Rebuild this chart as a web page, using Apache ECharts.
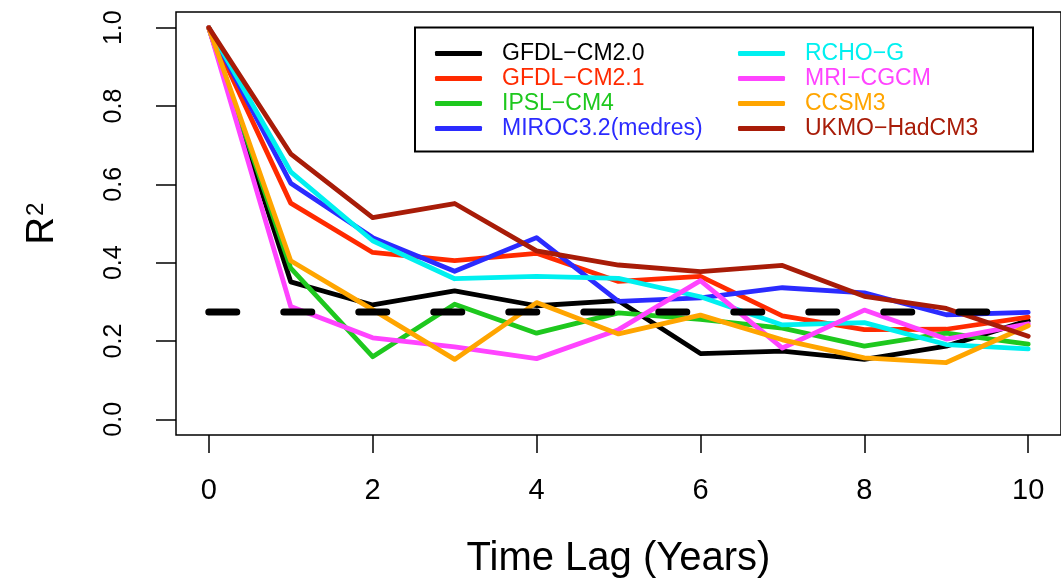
<!DOCTYPE html>
<html>
<head>
<meta charset="utf-8">
<script src="https://cdn.jsdelivr.net/npm/echarts@6/dist/echarts.min.js"></script>
<style>
html,body{margin:0;padding:0;background:#fff;}
#chart{width:1061px;height:584px;}
</style>
</head>
<body>
<div id="chart"></div>
<script>
// ---- data ----
const lags = [0, 1, 2, 3, 4, 5, 6, 7, 8, 9, 10];
const modelNames = ['GFDL\u2212CM2.0', 'GFDL\u2212CM2.1', 'IPSL\u2212CM4', 'MIROC3.2(medres)',
                    'RCHO\u2212G', 'MRI\u2212CGCM', 'CCSM3', 'UKMO\u2212HadCM3'];
const gfdlCM20 = [1.0, 0.351, 0.292, 0.328, 0.290, 0.303, 0.168, 0.174, 0.153, 0.187, 0.252];
const gfdlCM21 = [1.0, 0.552, 0.426, 0.405, 0.424, 0.352, 0.365, 0.264, 0.229, 0.230, 0.261];
const ipslCM4  = [1.0, 0.386, 0.160, 0.294, 0.220, 0.272, 0.255, 0.233, 0.187, 0.220, 0.192];
const miroc32  = [1.0, 0.603, 0.464, 0.378, 0.464, 0.301, 0.310, 0.336, 0.323, 0.267, 0.273];
const rchoG    = [1.0, 0.632, 0.456, 0.359, 0.365, 0.360, 0.313, 0.241, 0.247, 0.191, 0.180];
const mriCGCM  = [1.0, 0.288, 0.208, 0.185, 0.155, 0.229, 0.354, 0.182, 0.279, 0.205, 0.244];
const ccsm3    = [1.0, 0.405, 0.280, 0.153, 0.298, 0.218, 0.266, 0.203, 0.157, 0.145, 0.239];
const ukmo     = [1.0, 0.678, 0.515, 0.551, 0.430, 0.394, 0.377, 0.393, 0.314, 0.283, 0.212];
const thresholdLags = [0, 10];
const thresholdValue = [0.274, 0.274];
const xTickValues = [0, 2, 4, 6, 8, 10];
const yTickValues = [0, 0.2, 0.4, 0.6, 0.8, 1.0];
const xTitle = 'Time Lag (Years)';

const seriesValues = [gfdlCM20, gfdlCM21, ipslCM4, miroc32, rchoG, mriCGCM, ccsm3, ukmo];
const colors = ['#000000', '#ff2a00', '#1ec81e', '#2b2bff', '#00f0f0', '#ff44ff', '#ffa500', '#a81c08'];

const FONT = 'Liberation Sans, Arial, sans-serif';
const chart = echarts.init(document.getElementById('chart'), null, {renderer: 'canvas'});

const series = seriesValues.map((vals, i) => ({
  name: modelNames[i],
  type: 'line',
  data: lags.map((x, j) => [x, vals[j]]),
  showSymbol: false,
  symbol: 'none',
  lineStyle: {color: colors[i], width: 4.8, cap: 'round', join: 'round'},
  itemStyle: {color: colors[i]},
  z: 2 + i
}));
series.push({
  name: 'threshold',
  type: 'line',
  data: thresholdLags.map((x, j) => [x, thresholdValue[j]]),
  showSymbol: false,
  symbol: 'none',
  lineStyle: {color: '#000', width: 7, type: [28, 47], cap: 'round'},
  z: 20
});

function legendFor(idx, left) {
  return {
    orient: 'vertical',
    left: left,
    top: 42,
    padding: 0,
    itemGap: 2,
    itemWidth: 47,
    itemHeight: 5,
    icon: 'roundRect',
    selectedMode: false,
    textStyle: {fontFamily: FONT, fontSize: 23, lineHeight: 20, padding: [0, 0, 0, 15]},
    data: idx.map(i => ({name: modelNames[i], textStyle: {color: colors[i]}}))
  };
}

const option = {
  animation: false,
  backgroundColor: '#fff',
  grid: {
    left: 176, top: 12, width: 896, height: 428,
    show: true, borderColor: '#000', borderWidth: 1.5, backgroundColor: 'transparent'
  },
  legend: [legendFor([0, 1, 2, 3], 435), legendFor([4, 5, 6, 7], 738)],
  graphic: [{
    type: 'rect',
    shape: {x: 415, y: 27.5, width: 618, height: 124},
    style: {fill: 'rgba(0,0,0,0)', stroke: '#000', lineWidth: 2},
    z: 100
  }],
  xAxis: {
    type: 'value',
    min: -0.4, max: 10.4,
    name: xTitle,
    nameLocation: 'middle',
    nameGap: 104,
    nameTextStyle: {fontFamily: FONT, fontSize: 40, color: '#000'},
    axisLine: {show: false, onZero: false},
    axisTick: {show: true, inside: false, length: 18, customValues: xTickValues, lineStyle: {color: '#000', width: 1.5}},
    axisLabel: {customValues: xTickValues, margin: 41, fontSize: 29, color: '#000', fontFamily: FONT},
    splitLine: {show: false}
  },
  yAxis: {
    type: 'value',
    min: -0.04, max: 1.04,
    name: '{r|R}{s|2}',
    nameLocation: 'middle',
    nameRotate: 90,
    nameGap: 114,
    nameTextStyle: {
      color: '#000',
      rich: {
        r: {fontFamily: FONT, fontSize: 38, color: '#000'},
        s: {fontFamily: FONT, fontSize: 24, lineHeight: 24, color: '#000', verticalAlign: 'top', padding: [0, 0, 14, 1]}
      }
    },
    axisLine: {show: false, onZero: false},
    axisTick: {show: true, inside: false, length: 20, customValues: yTickValues, lineStyle: {color: '#000', width: 1.5}},
    axisLabel: {customValues: yTickValues, rotate: 90, margin: 49, fontSize: 25, color: '#000',
                fontFamily: FONT, formatter: v => v.toFixed(1)},
    splitLine: {show: false}
  },
  series: series
};
chart.setOption(option);
</script>
</body>
</html>
